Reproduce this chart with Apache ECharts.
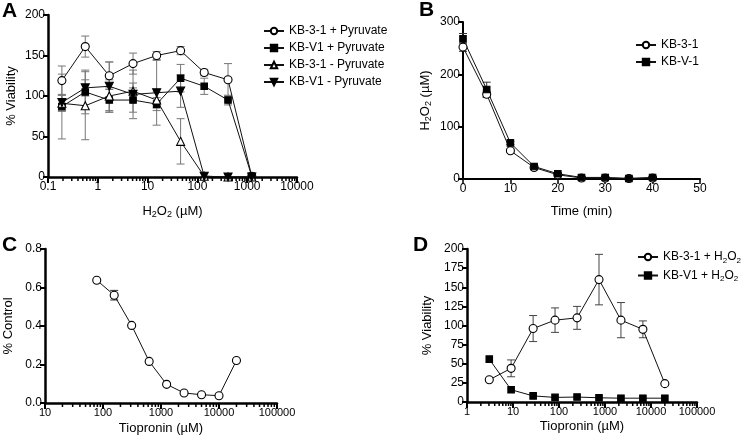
<!DOCTYPE html>
<html><head><meta charset="utf-8">
<script src="https://cdn.jsdelivr.net/npm/echarts@6/dist/echarts.min.js"></script>
<style>html,body{margin:0;padding:0;background:#fff}#c{width:745px;height:443px}</style>
</head><body><div id="c"></div>
<script>
// ---------- Panel A data ----------
const A_conc = [0.19, 0.56, 1.7, 5.1, 15.2, 46, 137, 412, 1235];
const A_kb31_plus = [119, 161, 125, 140, 150, 156, 129, 120, 1];
const A_kb31_plus_err = [18, 13, 17, 13, 5, 5, 4, 20, 0];
const A_kbv1_plus = [87, 105, 95, 95, 90, 122, 112, 95, 1];
const A_kbv1_plus_err = [40, 27, 15, 15, 8, 17, 10, 6, 0];
const A_kb31_minus = [91, 88, 100, 106, 95, 44, 1, 0, 0];
const A_kb31_minus_err = [10, 42, 20, 10, 10, 28, 0, 0, 0];
const A_kbv1_minus = [92, 110, 112, 102, 104, 106, 1, 0, 0];
const A_kbv1_minus_err = [10, 10, 30, 30, 40, 20, 0, 0, 0];
const A_yTicks = [0, 50, 100, 150, 200];
const A_xTicks = ['0.1', '1', '10', '100', '1000', '10000'];

// ---------- Panel B data ----------
const B_time = [0, 5, 10, 15, 20, 25, 30, 35, 40];
const B_kb31 = [252, 162, 54, 22, 8, 2, 2, 1, 2];
const B_kb31_err = [8, 6, 3, 2, 1, 0, 0, 0, 0];
const B_kbv1 = [268, 171, 69, 24, 10, 3, 3, 1, 3];
const B_kbv1_err = [10, 14, 3, 2, 1, 0, 0, 0, 0];
const B_yTicks = [0, 100, 200, 300];
const B_xTicks = [0, 10, 20, 30, 40, 50];

// ---------- Panel C data ----------
const C_conc = [78, 156, 312, 625, 1250, 2500, 5000, 10000, 20000];
const C_ctrl = [0.638, 0.56, 0.403, 0.216, 0.097, 0.052, 0.043, 0.038, 0.221];
const C_ctrl_err = [0, 0.025, 0, 0, 0, 0, 0, 0, 0];
const C_yTicks = ['0.0', '0.2', '0.4', '0.6', '0.8'];
const C_xTicks = ['10', '100', '1000', '10000', '100000'];

// ---------- Panel D data ----------
const D_conc = [3.05, 9.1, 27.4, 82, 247, 741, 2222, 6667, 20000];
const D_kb31 = [29, 44, 96, 107, 110, 160, 107, 95, 24];
const D_kb31_err = [0, 11, 17, 16, 15, 33, 23, 11, 0];
const D_kbv1 = [56, 16, 8, 6, 6.5, 5.5, 5, 5, 5];
const D_kbv1_err = [0, 0, 0, 0, 0, 0, 0, 0, 0];
const D_yTicks = [0, 25, 50, 75, 100, 125, 150, 175, 200];
const D_xTicks = ['1', '10', '100', '1000', '10000', '100000'];

const FONT = 'Liberation Sans';
const zip = (xs, ys) => xs.map((x, i) => [x, ys[i]]);
const zipErr = (xs, ys, es) => xs.map((x, i) => [x, ys[i], es[i]]);
function minorVals(lo, hi) {
  const out = [];
  for (let d = lo; d < hi; d *= 10) for (let k = 2; k <= 9; k++) out.push(+(d * k).toPrecision(6));
  return out;
}
const numFmt = v => String(+(+v).toPrecision(6));

const subStyle = { fontSize: 8, padding: [7, 0, 0, 0], fontFamily: FONT, color: '#000' };

function xAxisLog(grid, min, max, name, gap, fs) {
  return {
    gridIndex: grid, type: 'log', logBase: 10, min, max,
    axisLine: { lineStyle: { color: '#000', width: 2.5 } },
    axisTick: { length: 6, lineStyle: { color: '#000', width: 2 } },
    axisLabel: { color: '#000', fontFamily: FONT, fontSize: fs || 12, margin: 4, formatter: numFmt },
    splitLine: { show: false },
    name, nameLocation: 'middle', nameGap: gap,
    nameTextStyle: { color: '#000', fontFamily: FONT, fontSize: 13, rich: { s: { fontSize: 9, padding: [7, 0, 0, 0], fontFamily: FONT, color: '#000' } } }
  };
}
function yAxisLin(grid, min, max, interval, name, gap, fmt, w) {
  return {
    gridIndex: grid, type: 'value', min, max, interval,
    axisLine: { show: true, lineStyle: { color: '#000', width: w || 2.5 } },
    axisTick: { show: true, length: 5, lineStyle: { color: '#000', width: 2 } },
    axisLabel: { color: '#000', fontFamily: FONT, fontSize: 12, margin: 3, formatter: fmt },
    splitLine: { show: false },
    name, nameLocation: 'middle', nameGap: gap,
    nameTextStyle: { color: '#000', fontFamily: FONT, fontSize: 13, rich: { s: { fontSize: 9, padding: [7, 0, 0, 0], fontFamily: FONT, color: '#000' } } }
  };
}

function lineSeries(name, xi, data, symbol, filled, rotate) {
  return {
    name, type: 'line', xAxisIndex: xi, yAxisIndex: xi, data,
    symbol, symbolSize: symbol === 'rect' ? 6.5 : 8, symbolRotate: rotate || 0,
    showSymbol: true, z: 5,
    lineStyle: { color: '#111', width: 1 },
    itemStyle: { color: filled ? '#000' : '#fff', borderColor: '#000', borderWidth: 1.1 }
  };
}
function errSeries(xi, data, color) {
  return {
    type: 'custom', xAxisIndex: xi, yAxisIndex: xi, data, z: 3, silent: true,
    renderItem(params, api) {
      const x = api.value(0), y = api.value(1), e = api.value(2);
      if (!e) return;
      const t = api.coord([x, y + e]), b = api.coord([x, Math.max(0, y - e)]);
      const cw = 4;
      return { type: 'group', children: [
        { type: 'line', shape: { x1: t[0], y1: t[1], x2: b[0], y2: b[1] }, style: { stroke: color, lineWidth: 1 } },
        { type: 'line', shape: { x1: t[0] - cw, y1: t[1], x2: t[0] + cw, y2: t[1] }, style: { stroke: color, lineWidth: 1 } },
        { type: 'line', shape: { x1: b[0] - cw, y1: b[1], x2: b[0] + cw, y2: b[1] }, style: { stroke: color, lineWidth: 1 } }
      ] };
    }
  };
}
function minorTickSeries(xi, vals) {
  return {
    type: 'custom', xAxisIndex: xi, yAxisIndex: xi, data: vals.map(v => [v, 0]), z: 2, silent: true, clip: false,
    renderItem(params, api) {
      const p = api.coord([api.value(0), 0]);
      return { type: 'line', shape: { x1: p[0], y1: p[1], x2: p[0], y2: p[1] + 4 }, style: { stroke: '#000', lineWidth: 1.5 } };
    }
  };
}

const legendBase = {
  orient: 'vertical', itemWidth: 20, itemHeight: 8, itemGap: 5,
  textStyle: { color: '#000', fontFamily: FONT, fontSize: 12, rich: { t: { fontSize: 12, fontFamily: FONT, color: '#000', lineHeight: 14 }, s: subStyle } }
};

const option = {
  animation: false,
  backgroundColor: '#fff',
  title: [
    { text: 'A', left: 2, top: 1, padding: 0, textStyle: { fontSize: 21, fontWeight: 'bold', fontFamily: FONT, color: '#000' } },
    { text: 'B', left: 419, top: 0, padding: 0, textStyle: { fontSize: 21, fontWeight: 'bold', fontFamily: FONT, color: '#000' } },
    { text: 'C', left: 2, top: 235, padding: 0, textStyle: { fontSize: 21, fontWeight: 'bold', fontFamily: FONT, color: '#000' } },
    { text: 'D', left: 413, top: 235, padding: 0, textStyle: { fontSize: 21, fontWeight: 'bold', fontFamily: FONT, color: '#000' } }
  ],
  grid: [
    { left: 48, top: 15, width: 249, height: 162 },
    { left: 463, top: 22, width: 237, height: 157 },
    { left: 45, top: 249, width: 232, height: 154 },
    { left: 467, top: 249, width: 230, height: 153 }
  ],
  xAxis: [
    xAxisLog(0, 0.1, 10000, 'H{s|2}O{s|2} (µM)', 26, 12),
    {
      gridIndex: 1, type: 'value', min: 0, max: 50, interval: 10,
      axisLine: { lineStyle: { color: '#000', width: 2 } },
      axisTick: { length: 5, lineStyle: { color: '#000', width: 1.5 } },
      axisLabel: { color: '#000', fontFamily: FONT, fontSize: 12, margin: 4 },
      splitLine: { show: false },
      name: 'Time (min)', nameLocation: 'middle', nameGap: 26,
      nameTextStyle: { color: '#000', fontFamily: FONT, fontSize: 13 }
    },
    xAxisLog(2, 10, 100000, 'Tiopronin (µM)', 19, 11),
    xAxisLog(3, 1, 100000, 'Tiopronin (µM)', 18, 11)
  ],
  yAxis: [
    yAxisLin(0, 0, 200, 50, '% Viability', 30),
    yAxisLin(1, 0, 300, 100, 'H{s|2}O{s|2} (µM)', 30, null, 2),
    yAxisLin(2, 0, 0.8, 0.2, '% Control', 30, v => (+v).toFixed(1)),
    yAxisLin(3, 0, 200, 25, '% Viability', 33)
  ],
  legend: [
    Object.assign({}, legendBase, { left: 258, top: 20, data: ['KB-3-1 + Pyruvate', 'KB-V1 + Pyruvate', 'KB-3-1 - Pyruvate', 'KB-V1 - Pyruvate'] }),
    Object.assign({}, legendBase, { left: 630, top: 34, data: ['KB-3-1', 'KB-V-1'] }),
    Object.assign({}, legendBase, { left: 632, top: 246, data: ['KB-3-1 + H2O2', 'KB-V1 + H2O2'],
      formatter: n => '{t|' + n.replace(' + H2O2', ' + H') + '}{s|2}{t|O}{s|2}' })
  ],
  series: [
    // Panel A
    minorTickSeries(0, minorVals(0.1, 10000)),
    errSeries(0, zipErr(A_conc, A_kb31_plus, A_kb31_plus_err), '#777'),
    errSeries(0, zipErr(A_conc, A_kbv1_plus, A_kbv1_plus_err), '#777'),
    errSeries(0, zipErr(A_conc, A_kb31_minus, A_kb31_minus_err), '#777'),
    errSeries(0, zipErr(A_conc, A_kbv1_minus, A_kbv1_minus_err), '#777'),
    lineSeries('KB-3-1 + Pyruvate', 0, zip(A_conc, A_kb31_plus), 'circle', false),
    lineSeries('KB-V1 + Pyruvate', 0, zip(A_conc, A_kbv1_plus), 'rect', true),
    lineSeries('KB-3-1 - Pyruvate', 0, zip(A_conc, A_kb31_minus), 'triangle', false),
    lineSeries('KB-V1 - Pyruvate', 0, zip(A_conc, A_kbv1_minus), 'triangle', true, 180),
    // Panel B
    errSeries(1, zipErr(B_time, B_kb31, B_kb31_err), '#333'),
    errSeries(1, zipErr(B_time, B_kbv1, B_kbv1_err), '#333'),
    lineSeries('KB-3-1', 1, zip(B_time, B_kb31), 'circle', false),
    lineSeries('KB-V-1', 1, zip(B_time, B_kbv1), 'rect', true),
    // Panel C
    minorTickSeries(2, minorVals(10, 100000)),
    errSeries(2, zipErr(C_conc, C_ctrl, C_ctrl_err), '#333'),
    lineSeries('C', 2, zip(C_conc, C_ctrl), 'circle', false),
    // Panel D
    minorTickSeries(3, minorVals(1, 100000)),
    errSeries(3, zipErr(D_conc, D_kb31, D_kb31_err), '#444'),
    errSeries(3, zipErr(D_conc, D_kbv1, D_kbv1_err), '#444'),
    lineSeries('KB-3-1 + H2O2', 3, zip(D_conc, D_kb31), 'circle', false),
    lineSeries('KB-V1 + H2O2', 3, zip(D_conc, D_kbv1), 'rect', true)
  ]
};
const chart = echarts.init(document.getElementById('c'), null, { renderer: 'canvas' });
chart.setOption(option);
</script></body></html>
